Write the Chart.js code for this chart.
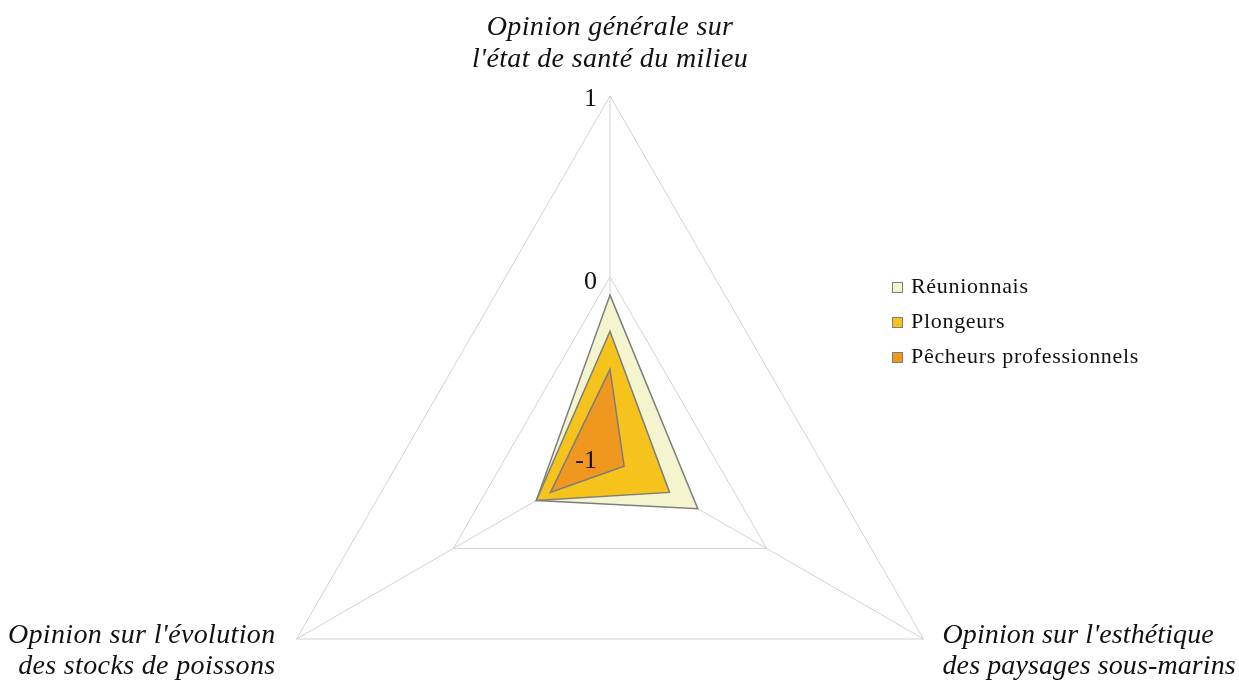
<!DOCTYPE html>
<html lang="fr">
<head>
<meta charset="utf-8">
<title>Opinions - radar</title>
<script src="https://cdn.jsdelivr.net/npm/chart.js@4.4.1/dist/chart.umd.min.js"></script>
<style>
    html, body { margin: 0; padding: 0; background: #ffffff; overflow: hidden; }
    #wrap { width: 1239px; height: 682px; overflow: hidden; }
    #radarChart { display: block; }
</style>
</head>
<body>
<div id="wrap"><canvas id="radarChart" width="1239" height="820"></canvas></div>
<script>
// Data
const axisLabels = [
    ["Opinion générale sur", "l'état de santé du milieu"],
    ["Opinion sur l'esthétique", "des paysages sous-marins"],
    ["Opinion sur l'évolution", "des stocks de poissons"]
];
const seriesNames = ['Réunionnais', 'Plongeurs', 'Pêcheurs professionnels'];
const reunionnais = [-0.10, -0.44, -0.53];
const plongeurs = [-0.30, -0.62, -0.53];
const pecheurs = [-0.51, -0.91, -0.62];
const tickValues = [-1, 0, 1];

// Styles
const fillColors = ['#f4f5cf', '#f6c31c', '#ef971f'];
const borderColor = '#7d7d7d';
const gridColor = '#d2d2d2';
const serif = '"Liberation Serif", "Times New Roman", serif';

// Axis titles, tick numbers and legend, drawn next to the scale
const labelsPlugin = {
    id: 'axisText',
    afterDraw(chart) {
        const ctx = chart.ctx;
        const scale = chart.scales.r;
        ctx.save();
        ctx.fillStyle = '#111111';

        // tick numbers left of the top spoke
        ctx.font = '26px ' + serif;
        ctx.textAlign = 'right';
        ctx.textBaseline = 'middle';
        tickValues.forEach(v => {
            const y = scale.yCenter - scale.getDistanceFromCenterForValue(v);
            ctx.fillText(String(v), scale.xCenter - 13, y + (v === 0 ? 5 : 3));
        });

        // axis titles
        ctx.font = 'italic 28px ' + serif;
        ctx.textBaseline = 'alphabetic';
        axisLabels.forEach((lines, i) => {
            const p = scale.getPointPosition(i, scale.drawingArea);
            ctx.letterSpacing = i === 1 ? '0.1px' : '0.35px';
            if (i === 0) {
                ctx.textAlign = 'center';
                ctx.fillText(lines[0], p.x, p.y - 61);
                ctx.fillText(lines[1], p.x, p.y - 29);
            } else {
                const left = i === 2;
                ctx.textAlign = left ? 'right' : 'left';
                const x = left ? p.x - 21 : p.x + 19;
                ctx.fillText(lines[0], x, p.y + 4);
                ctx.fillText(lines[1], x, p.y + 35);
            }
        });

        // legend
        ctx.font = '22px ' + serif;
        ctx.letterSpacing = '0.7px';
        ctx.textAlign = 'left';
        ctx.textBaseline = 'middle';
        chart.data.datasets.forEach((ds, i) => {
            const y = 287 + i * 35;
            ctx.fillStyle = ds.backgroundColor;
            ctx.fillRect(892, y - 5, 11, 11);
            ctx.strokeStyle = borderColor;
            ctx.lineWidth = 1;
            ctx.strokeRect(892.5, y - 4.5, 10, 10);
            ctx.fillStyle = '#111111';
            ctx.fillText(ds.label, 911, y);
        });
        ctx.restore();
    }
};

const seriesData = [reunionnais, plongeurs, pecheurs];

const radarChart = new Chart(document.querySelector('#radarChart'), {
    type: 'radar',
    data: {
        labels: axisLabels.map(l => l.join(' ')),
        datasets: seriesData.map((values, i) => ({
            label: seriesNames[i],
            data: values,
            backgroundColor: fillColors[i],
            borderColor: borderColor,
            borderWidth: 1.5,
            pointRadius: 0,
            order: 2 - i
        }))
    },
    options: {
        responsive: false,
        animation: false,
        layout: {
            padding: { left: 248, right: 267, top: 96, bottom: 0 }
        },
        plugins: {
            legend: { display: false },
            tooltip: { enabled: false }
        },
        scales: {
            r: {
                min: -1,
                max: 1,
                ticks: { display: false, stepSize: 1 },
                pointLabels: { display: false },
                grid: { color: gridColor, lineWidth: 1 },
                angleLines: { color: gridColor, lineWidth: 1 }
            }
        }
    },
    plugins: [labelsPlugin]
});
</script>
</body>
</html>
